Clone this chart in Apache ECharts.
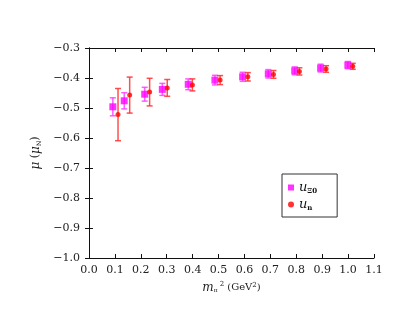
<!DOCTYPE html>
<html>
<head>
<meta charset="utf-8">
<script src="https://cdn.jsdelivr.net/npm/echarts@6/dist/echarts.min.js"></script>
<style>
html, body { margin: 0; padding: 0; background: #fff; }
#chart { width: 415px; height: 321px; }
</style>
</head>
<body>
<div id="chart"></div>
<script>
// u_Xi0 (magenta squares)
var xXi = [0.092, 0.136, 0.215, 0.283, 0.383, 0.486, 0.593, 0.692, 0.794, 0.894, 0.999];
var yXi = [-0.496, -0.476, -0.454, -0.438, -0.421, -0.407, -0.396, -0.386, -0.376, -0.367, -0.357];
var eXi = [0.030, 0.027, 0.023, 0.020, 0.018, 0.016, 0.015, 0.014, 0.013, 0.013, 0.012];
// u_n (red dots)
var xN = [0.112, 0.157, 0.234, 0.302, 0.399, 0.506, 0.613, 0.712, 0.812, 0.915, 1.018];
var yN = [-0.522, -0.457, -0.447, -0.433, -0.423, -0.407, -0.396, -0.388, -0.378, -0.370, -0.361];
var eN = [0.087, 0.060, 0.046, 0.028, 0.020, 0.015, 0.014, 0.013, 0.012, 0.011, 0.010];

var serif = 'DejaVu Serif';

function zip3(a, b, c) {
	var out = [];
	for (var i = 0; i < a.length; i++) out.push([a[i], b[i], c[i]]);
	return out;
}

function errBars(color) {
	return function(params, api) {
		var x = api.value(0), y = api.value(1), e = api.value(2);
		var t = api.coord([x, y + e]);
		var b = api.coord([x, y - e]);
		var cap = 3;
		var st = { stroke: color, lineWidth: 1.5, opacity: 0.85 };
		return {
			type: 'group',
			children: [
				{ type: 'line', shape: { x1: t[0], y1: t[1], x2: b[0], y2: b[1] }, style: st },
				{ type: 'line', shape: { x1: t[0] - cap, y1: t[1], x2: t[0] + cap, y2: t[1] }, style: st },
				{ type: 'line', shape: { x1: b[0] - cap, y1: b[1], x2: b[0] + cap, y2: b[1] }, style: st }
			]
		};
	};
}

var axisLine = { show: true, lineStyle: { color: '#111', width: 1 } };
var tick = { show: true, inside: true, length: 4, lineStyle: { color: '#111' } };

var myChart = echarts.init(document.getElementById('chart'));
var option = {
	animation: false,
	grid: { left: 89, right: 41, top: 48, bottom: 63 },
	legend: {
		orient: 'vertical',
		left: 282,
		top: 174,
		padding: [7, 20, 5, 6],
		itemGap: 3,
		itemWidth: 6,
		itemHeight: 6,
		borderColor: '#333',
		borderWidth: 1,
		data: ['xi', 'n'],
		formatter: function(name) {
			return name === 'xi' ? '{i|u}{s|Ξ0}' : '{i|u}{s|n}';
		},
		textStyle: {
			rich: {
				i: { fontFamily: serif, fontStyle: 'italic', fontSize: 13, color: '#111' },
				s: { fontFamily: serif, fontSize: 7, fontWeight: 'bold', color: '#111', padding: [8, 0, 0, 0] }
			}
		}
	},
	xAxis: [{
		type: 'value', min: 0, max: 1.1, interval: 0.1,
		axisLine: axisLine, axisTick: tick, splitLine: { show: false },
		axisLabel: {
			margin: 7, fontFamily: serif, fontSize: 11, color: '#222',
			formatter: function(v) { return v.toFixed(1); }
		},
		name: '{i|m}{sub|π}{sup|2} (GeV{sup2|2})',
		nameLocation: 'middle',
		nameGap: 22,
		nameTextStyle: {
			fontFamily: serif, fontSize: 10, color: '#222',
			rich: {
				i: { fontFamily: serif, fontStyle: 'italic', fontSize: 12, color: '#222' },
				sub: { fontFamily: serif, fontSize: 6, color: '#222', padding: [7, 0, 0, 0] },
				sup: { fontFamily: serif, fontSize: 7, color: '#222', padding: [0, 0, 6, 2] },
				sup2: { fontFamily: serif, fontSize: 7, color: '#222', padding: [0, 0, 5, 0] }
			}
		}
	}, {
		type: 'value', min: 0, max: 1.1, interval: 0.1, position: 'top',
		axisLine: axisLine, axisTick: tick, axisLabel: { show: false }, splitLine: { show: false }
	}],
	yAxis: [{
		type: 'value', min: -1.0, max: -0.3, interval: 0.1,
		axisLine: axisLine, axisTick: tick, splitLine: { show: false },
		axisLabel: {
			margin: 9, fontFamily: serif, fontSize: 11, color: '#222',
			formatter: function(v) { return v.toFixed(1).replace('-', '\u2212'); }
		},
		name: '{i|μ} ({i|μ}{sub|N})',
		nameLocation: 'middle',
		nameGap: 47,
		nameTextStyle: {
			fontFamily: serif, fontSize: 11, color: '#222',
			rich: {
				i: { fontFamily: serif, fontStyle: 'italic', fontSize: 12, color: '#222' },
				sub: { fontFamily: serif, fontSize: 6, color: '#222', padding: [7, 0, 0, 0] }
			}
		}
	}, {
		type: 'value', min: -1.0, max: -0.3, interval: 0.1, position: 'right',
		axisLine: axisLine, axisTick: tick, axisLabel: { show: false }, splitLine: { show: false }
	}],
	series: [{
		type: 'custom',
		renderItem: errBars('#ff40ff'),
		data: zip3(xXi, yXi, eXi),
		z: 2
	}, {
		type: 'custom',
		renderItem: errBars('#ff3030'),
		data: zip3(xN, yN, eN),
		z: 2
	}, {
		name: 'xi',
		type: 'scatter',
		symbol: 'rect',
		symbolSize: 7,
		itemStyle: { color: '#ff00ff' },
		data: zip3(xXi, yXi, eXi).map(function(d) { return [d[0], d[1]]; }),
		z: 3
	}, {
		name: 'n',
		type: 'scatter',
		symbol: 'circle',
		symbolSize: 5,
		itemStyle: { color: '#ff0000' },
		data: zip3(xN, yN, eN).map(function(d) { return [d[0], d[1]]; }),
		z: 3
	}]
};
myChart.setOption(option);
</script>
</body>
</html>
